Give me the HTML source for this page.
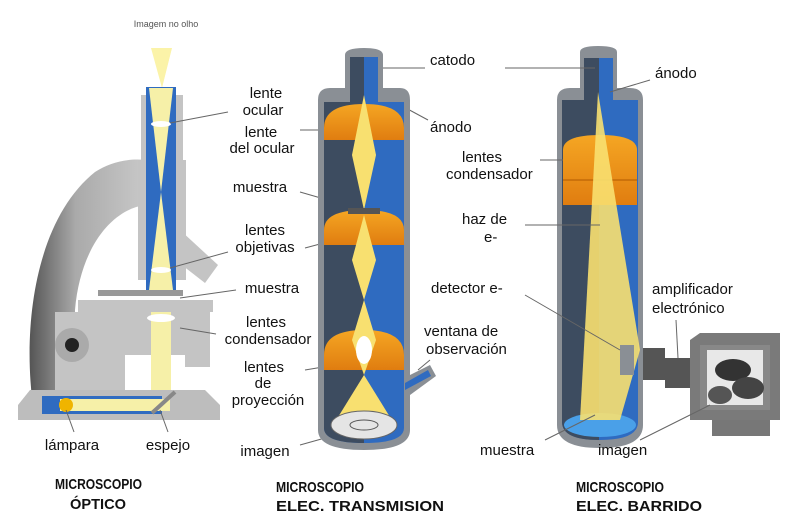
<!DOCTYPE html>
<html><head><meta charset="utf-8"><style>
html,body{margin:0;padding:0;background:#fff}
svg{display:block}
text{font-family:"Liberation Sans",sans-serif;fill:#111}
.l{font-size:15px}
.t{font-size:15px;font-weight:bold}
</style></head><body>
<svg width="800" height="514" viewBox="0 0 800 514" xmlns="http://www.w3.org/2000/svg">
<defs>
<linearGradient id="arm" x1="0" x2="1"><stop offset="0" stop-color="#555"/><stop offset="0.4" stop-color="#aaa"/><stop offset="1" stop-color="#c8c8c8"/></linearGradient>
<linearGradient id="or" x1="0" y1="0" x2="0" y2="1"><stop offset="0" stop-color="#f5a623"/><stop offset="1" stop-color="#e07d10"/></linearGradient>
</defs>
<!-- ===== OPTICAL ===== -->
<text x="166" y="27" font-size="9" text-anchor="middle" style="fill:#555">Imagem no olho</text>
<polygon points="151,48 172,48 162,88" fill="#fbf3a8"/>
<path d="M35,420 C20,330 35,220 95,172 C110,162 130,158 145,160 L145,205 C110,210 80,250 75,310 L75,420 Z" fill="url(#arm)"/>
<rect x="138" y="160" width="48" height="120" fill="#c4c4c4"/>
<rect x="141" y="95" width="42" height="70" fill="#c4c4c4"/>
<polygon points="180,230 218,265 205,283 178,262" fill="#c4c4c4"/>
<rect x="146" y="87" width="30" height="206" fill="#2f6bc0"/>
<polygon points="149,88 173,88 161,192" fill="#f6f0a8"/>
<polygon points="161,192 149,290 173,290" fill="#f6f0a8"/>
<ellipse cx="161" cy="124" rx="10" ry="3" fill="#fff"/>
<ellipse cx="161" cy="270" rx="10" ry="3" fill="#fff"/>
<rect x="98" y="290" width="85" height="6" fill="#999"/>
<rect x="78" y="300" width="135" height="12" fill="#c4c4c4"/>
<rect x="55" y="312" width="130" height="80" fill="#c4c4c4"/>
<rect x="180" y="312" width="30" height="55" fill="#c4c4c4"/>
<rect x="125" y="355" width="60" height="35" fill="#fff"/>
<circle cx="72" cy="345" r="17" fill="#aaa"/><circle cx="72" cy="345" r="7" fill="#222"/>
<rect x="151" y="312" width="20" height="90" fill="#f6f0a8"/>
<ellipse cx="161" cy="318" rx="14" ry="4" fill="#fff"/>
<polygon points="30,390 205,390 220,405 220,420 18,420 18,405" fill="#bdbdbd"/>
<rect x="42" y="396" width="120" height="18" fill="#2f6bc0"/>
<rect x="60" y="399" width="110" height="12" fill="#f6f0a8"/>
<circle cx="66" cy="405" r="7" fill="#f0b400"/>
<line x1="152" y1="413" x2="175" y2="392" stroke="#888" stroke-width="4"/>
<g class="l" text-anchor="middle">
<text x="266" y="98" class="l">lente</text>
<text x="263" y="115" class="l">ocular</text>
<text x="261" y="137" class="l">lente</text>
<text x="262" y="153" class="l">del ocular</text>
<text x="260" y="192" class="l">muestra</text>
<text x="265" y="235" class="l">lentes</text>
<text x="265" y="252" class="l">objetivas</text>
<text x="272" y="293" class="l">muestra</text>
<text x="266" y="327" class="l">lentes</text>
<text x="268" y="344" class="l">condensador</text>
<text x="264" y="372" class="l">lentes</text>
<text x="263" y="388" class="l">de</text>
<text x="268" y="405" class="l">proyección</text>
<text x="265" y="456" class="l">imagen</text>
<text x="72" y="450" class="l">lámpara</text>
<text x="168" y="450" class="l">espejo</text>
</g>
<g stroke="#666" stroke-width="1" fill="none">
<line x1="228" y1="112" x2="170" y2="123"/>
<line x1="228" y1="252" x2="170" y2="268"/>
<line x1="236" y1="290" x2="180" y2="298"/>
<line x1="216" y1="334" x2="180" y2="328"/>
<line x1="74" y1="432" x2="66" y2="410"/>
<line x1="168" y1="432" x2="160" y2="410"/>
<line x1="300" y1="130" x2="330" y2="130"/>
<line x1="300" y1="192" x2="345" y2="205"/>
<line x1="305" y1="248" x2="335" y2="240"/>
<line x1="305" y1="370" x2="335" y2="365"/>
<line x1="300" y1="445" x2="325" y2="438"/>
<line x1="425" y1="68" x2="365" y2="68"/>
<line x1="428" y1="120" x2="378" y2="93"/>
<line x1="430" y1="360" x2="418" y2="370"/>
</g>
<!-- ===== TEM ===== -->
<path d="M318,100 Q318,88 330,88 L345,88 L345,55 Q345,48 364,48 Q383,48 383,55 L383,88 L400,88 Q410,88 410,100 L410,430 Q410,450 364,450 Q318,450 318,430 Z" fill="#8a8f95"/>
<path d="M324,102 L350,102 L350,57 L378,57 L378,102 L404,102 L404,428 Q404,443 364,443 Q324,443 324,428 Z" fill="#2f6bc0"/>
<path d="M324,102 L350,102 L350,57 L364,57 L364,443 Q324,443 324,428 Z" fill="#3d4c60"/>
<polygon points="404,378 430,365 436,376 410,395" fill="#8a8f95"/>
<polygon points="405,383 428,370 431,376 405,390" fill="#2f6bc0"/>
<path d="M324,128 Q324,104 364,104 Q404,104 404,128 L404,140 L324,140 Z" fill="url(#or)"/>
<path d="M324,230 Q324,210 364,210 Q404,210 404,230 L404,245 L324,245 Z" fill="url(#or)"/>
<path d="M324,355 Q324,330 364,330 Q404,330 404,355 L404,370 L324,370 Z" fill="url(#or)"/>
<polygon points="364,95 352,155 364,210 376,155" fill="#f8e070"/>
<polygon points="364,215 352,260 364,300 376,260" fill="#f8e070"/>
<polygon points="364,300 352,340 364,375 376,340" fill="#f8e070"/>
<ellipse cx="364" cy="350" rx="8" ry="14" fill="#fff"/>
<polygon points="364,375 335,422 393,422" fill="#f8e070"/>
<rect x="348" y="208" width="32" height="6" fill="#555"/>
<ellipse cx="364" cy="425" rx="33" ry="14" fill="#e5e5e5" stroke="#666"/>
<ellipse cx="364" cy="425" rx="14" ry="5" fill="none" stroke="#555"/>
<g class="l">
<text x="430" y="65">catodo</text>
<text x="430" y="132">ánodo</text>
<text x="424" y="336">ventana de</text>
<text x="426" y="354">observación</text>
</g>
<!-- ===== SEM ===== -->
<path d="M557,100 Q557,88 570,88 L580,88 L580,52 Q580,46 598,46 Q617,46 617,52 L617,88 L630,88 Q643,88 643,100 L643,425 Q643,448 600,448 Q557,448 557,425 Z" fill="#8a8f95"/>
<path d="M562,100 L584,100 L584,58 L613,58 L613,100 L638,100 L638,422 Q638,440 600,440 Q562,440 562,422 Z" fill="#2f6bc0"/>
<path d="M562,100 L584,100 L584,58 L599,58 L599,440 Q562,440 562,422 Z" fill="#3d4c60"/>
<path d="M563,150 Q563,135 600,135 Q637,135 637,150 L637,205 L563,205 Z" fill="url(#or)"/>
<line x1="563" y1="180" x2="637" y2="180" stroke="#b05a00"/>
<ellipse cx="600" cy="425" rx="36" ry="12" fill="#4aa0e8"/>
<polygon points="598,92 580,420 620,420 640,350" fill="#f8e070" opacity="0.9"/>
<rect x="620" y="345" width="14" height="30" fill="#8a8f95"/>
<rect x="643" y="348" width="22" height="32" fill="#555"/>
<rect x="665" y="358" width="25" height="30" fill="#555"/>
<polygon points="690,340 700,333 780,333 780,420 690,420" fill="#7a7a7a"/>
<rect x="700" y="345" width="70" height="65" fill="#888"/>
<rect x="707" y="350" width="56" height="55" fill="#e8e8e8"/>
<ellipse cx="733" cy="370" rx="18" ry="11" fill="#333"/>
<ellipse cx="748" cy="388" rx="16" ry="11" fill="#444"/>
<ellipse cx="720" cy="395" rx="12" ry="9" fill="#555"/>
<rect x="712" y="420" width="58" height="16" fill="#777"/>
<g stroke="#666" stroke-width="1" fill="none">
<line x1="505" y1="68" x2="595" y2="68"/>
<line x1="650" y1="80" x2="610" y2="92"/>
<line x1="540" y1="160" x2="563" y2="160"/>
<line x1="525" y1="225" x2="600" y2="225"/>
<line x1="525" y1="295" x2="620" y2="350"/>
<line x1="545" y1="440" x2="595" y2="415"/>
<line x1="640" y1="440" x2="710" y2="405"/>
<line x1="676" y1="320" x2="678" y2="358"/>
</g>
<g class="l">
<text x="655" y="78">ánodo</text>
<text x="462" y="162">lentes</text>
<text x="446" y="179">condensador</text>
<text x="462" y="224">haz de</text>
<text x="484" y="242">e-</text>
<text x="431" y="293">detector e-</text>
<text x="652" y="294">amplificador</text>
<text x="652" y="313">electrónico</text>
<text x="480" y="455">muestra</text>
<text x="598" y="455">imagen</text>
</g>
<g class="t">
<text x="55" y="489" textLength="87" lengthAdjust="spacingAndGlyphs">MICROSCOPIO</text>
<text x="70" y="509" textLength="56" lengthAdjust="spacingAndGlyphs">ÓPTICO</text>
<text x="276" y="492" textLength="88" lengthAdjust="spacingAndGlyphs">MICROSCOPIO</text>
<text x="276" y="511" textLength="168" lengthAdjust="spacingAndGlyphs">ELEC. TRANSMISION</text>
<text x="576" y="492" textLength="88" lengthAdjust="spacingAndGlyphs">MICROSCOPIO</text>
<text x="576" y="511" textLength="126" lengthAdjust="spacingAndGlyphs">ELEC. BARRIDO</text>
</g>
</svg>
</body></html>
